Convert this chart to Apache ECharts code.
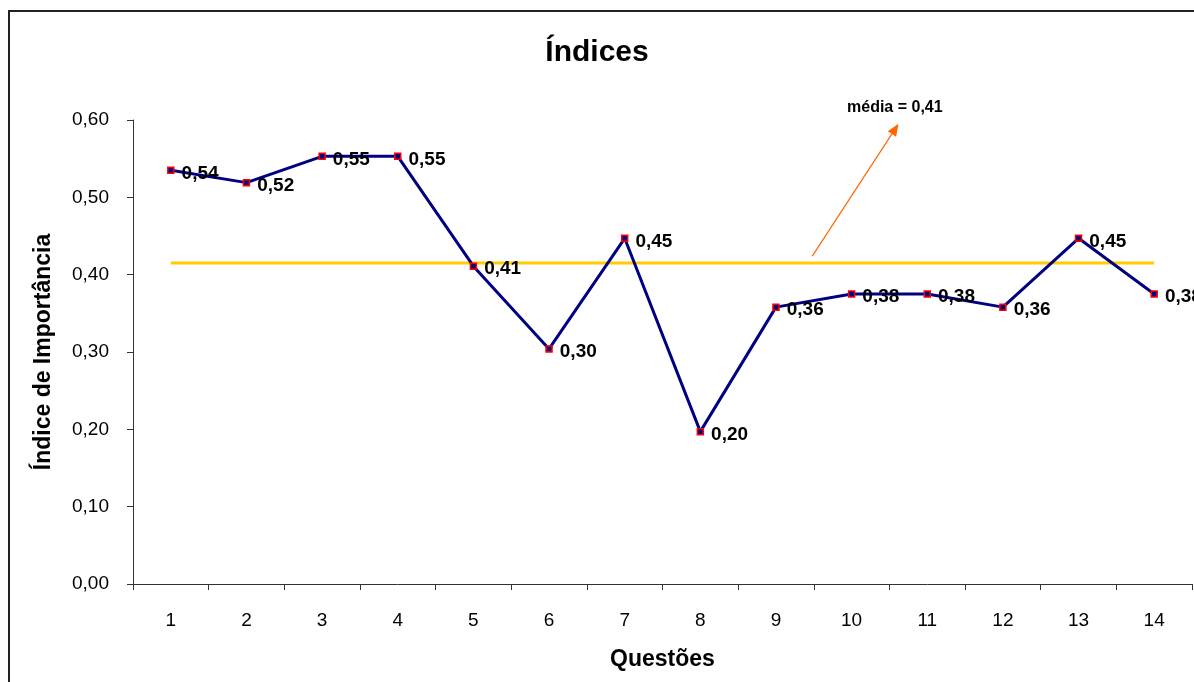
<!DOCTYPE html>
<html>
<head>
<meta charset="utf-8">
<script src="https://cdn.jsdelivr.net/npm/echarts@6/dist/echarts.min.js"></script>
<style>
  html, body { margin: 0; padding: 0; background: #fff; }
  #chart { width: 1194px; height: 682px; }
</style>
</head>
<body>
<div id="chart"></div>
<script>
// dados do gráfico
var questoes = ['1', '2', '3', '4', '5', '6', '7', '8', '9', '10', '11', '12', '13', '14'];
var indices = [0.535, 0.519, 0.553, 0.553, 0.411, 0.304, 0.447, 0.197, 0.358, 0.375, 0.375, 0.358, 0.447, 0.375];
var rotulos = ['0,54', '0,52', '0,55', '0,55', '0,41', '0,30', '0,45', '0,20', '0,36', '0,38', '0,38', '0,36', '0,45', '0,38'];
var media = 0.415;
var mediaTexto = 'média = 0,41';
// seta da anotação (índice da categoria, valor)
var setaInicio = [8.48, 0.424];
var setaFim = [9.62, 0.595];

var font = 'Liberation Sans, Arial, sans-serif';
var chart = echarts.init(document.getElementById('chart'));

chart.setOption({
  animation: false,
  title: {
    text: 'Índices',
    left: 'center',
    top: 33,
    textStyle: { fontFamily: font, fontSize: 30, fontWeight: 'bold', color: '#000' }
  },
  graphic: [
    {
      id: 'borda',
      type: 'rect',
      shape: { x: 9, y: 11, width: 1300, height: 800 },
      style: { fill: 'none', stroke: '#222', lineWidth: 2 },
      silent: true
    },
    {
      id: 'mediaTexto',
      type: 'text',
      left: 847,
      top: 100,
      style: { text: mediaTexto, font: 'bold 16px ' + font, fill: '#000' }
    }
  ],
  grid: { left: 133, right: 2, top: 120, bottom: 98 },
  xAxis: {
    type: 'category',
    data: questoes,
    boundaryGap: true,
    name: 'Questões',
    nameLocation: 'middle',
    nameGap: 64,
    nameTextStyle: { fontFamily: font, fontSize: 23, fontWeight: 'bold', color: '#000' },
    axisLine: { lineStyle: { color: '#333', width: 1 } },
    axisTick: { show: true, length: 6, lineStyle: { color: '#333' } },
    axisLabel: { fontFamily: font, fontSize: 19, color: '#000', margin: 27 }
  },
  yAxis: {
    type: 'value',
    min: 0,
    max: 0.6,
    interval: 0.1,
    name: 'Índice de Importância',
    nameLocation: 'middle',
    nameGap: 78,
    nameTextStyle: { fontFamily: font, fontSize: 23, fontWeight: 'bold', color: '#000' },
    axisLine: { show: true, lineStyle: { color: '#333', width: 1 } },
    axisTick: { show: true, length: 6, lineStyle: { color: '#333' } },
    splitLine: { show: false },
    axisLabel: {
      fontFamily: font,
      fontSize: 19,
      color: '#000',
      margin: 24,
      formatter: function (v) { return v.toFixed(2).replace('.', ','); }
    }
  },
  series: [
    {
      name: 'Média',
      type: 'line',
      data: questoes.map(function () { return media; }),
      symbol: 'none',
      lineStyle: { color: '#FFCC00', width: 3 },
      z: 1
    },
    {
      name: 'Índices',
      type: 'line',
      data: indices,
      symbol: 'rect',
      symbolSize: 6,
      itemStyle: { color: '#000080', borderColor: '#FF0000', borderWidth: 1.5 },
      lineStyle: { color: '#000080', width: 3 },
      z: 3,
      label: {
        show: true,
        position: 'right',
        offset: [2, 3],
        fontFamily: font,
        fontSize: 19,
        fontWeight: 'bold',
        color: '#000',
        formatter: function (p) { return rotulos[p.dataIndex]; }
      }
    }
  ]
});

// seta: o eixo de categorias arredonda índices fracionários, então interpola
function paraPixel(pt) {
  var i = Math.floor(pt[0]);
  var a = chart.convertToPixel({ gridIndex: 0 }, [i, pt[1]]);
  var b = chart.convertToPixel({ gridIndex: 0 }, [i + 1, pt[1]]);
  return [a[0] + (b[0] - a[0]) * (pt[0] - i), a[1]];
}
var p0 = paraPixel(setaInicio);
var p1 = paraPixel(setaFim);
var ang = Math.atan2(p1[1] - p0[1], p1[0] - p0[0]);
var cab = 12, larg = 5;
var base = [p1[0] - cab * Math.cos(ang), p1[1] - cab * Math.sin(ang)];
chart.setOption({
  graphic: [
    {
      id: 'setaLinha',
      type: 'line',
      silent: true,
      shape: { x1: p0[0], y1: p0[1], x2: base[0], y2: base[1] },
      style: { stroke: '#FF6600', lineWidth: 1.2 }
    },
    {
      id: 'setaPonta',
      type: 'polygon',
      silent: true,
      shape: {
        points: [
          p1,
          [base[0] + larg * Math.sin(ang), base[1] - larg * Math.cos(ang)],
          [base[0] - larg * Math.sin(ang), base[1] + larg * Math.cos(ang)]
        ]
      },
      style: { fill: '#FF6600' }
    }
  ]
});
</script>
</body>
</html>
